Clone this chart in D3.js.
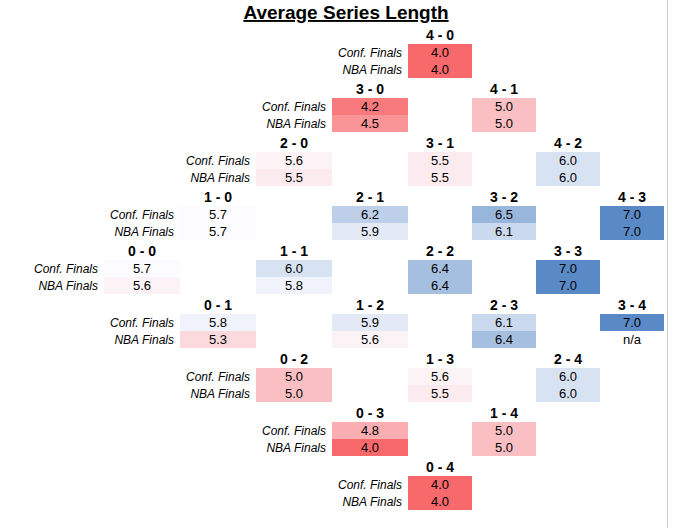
<!DOCTYPE html>
<html><head><meta charset="utf-8">
<script src="https://cdn.jsdelivr.net/npm/d3@7"></script>
<style>body{margin:0;background:#fff;font-family:"Liberation Sans",Arial,sans-serif}</style>
</head><body><div id="chart"></div>
<script>
// series states as "wins-losses"
const states = ["4-0","3-0","4-1","2-0","3-1","4-2","1-0","2-1","3-2","4-3","0-0","1-1","2-2","3-3",
                "0-1","1-2","2-3","3-4","0-2","1-3","2-4","0-3","1-4","0-4"];
const confFinals = [4.0,4.2,5.0,5.6,5.5,6.0,5.7,6.2,6.5,7.0,5.7,6.0,6.4,7.0,5.8,5.9,6.1,7.0,5.0,5.6,6.0,4.8,5.0,4.0];
const nbaFinals  = [4.0,4.5,5.0,5.5,5.5,6.0,5.7,5.9,6.1,7.0,5.6,5.8,6.4,7.0,5.3,5.6,6.4,null,5.0,5.5,6.0,4.0,5.0,4.0];
const rowLabels = ["Conf. Finals","NBA Finals"];

const W = 693, H = 528;
const colEdges = [104,180,256,332,408,472,536,600,664];
const rowH = 17;
const yMid = 260, step = 54;

const color = d3.scaleLinear().domain([4.0,5.7,7.0]).range(["#f8696b","#fcfcff","#5a8ac6"]);

const svg = d3.select("#chart").append("svg").attr("width",W).attr("height",H);
svg.append("line").attr("x1",667.5).attr("x2",667.5).attr("y1",0).attr("y2",H).attr("stroke","#d0d0d0");

svg.append("text").attr("x",346).attr("y",19).attr("text-anchor","middle")
  .attr("font-size",19).attr("font-weight","bold").attr("text-decoration","underline").text("Average Series Length");

states.forEach((s,i) => {
  const [a,b] = s.split("-").map(Number);
  const c = a + b;
  const x0 = colEdges[c], x1 = colEdges[c+1], w = x1 - x0;
  const y0 = yMid - (a-b)*step;
  const g = svg.append("g");
  g.append("text").attr("x",(x0+x1)/2).attr("y",y0-4).attr("text-anchor","middle")
    .attr("font-size",14).attr("font-weight","bold").text(`${a} - ${b}`);
  [confFinals[i], nbaFinals[i]].forEach((v,j) => {
    const y = y0 + j*rowH;
    if (v != null) g.append("rect").attr("x",x0).attr("y",y).attr("width",w).attr("height",rowH).attr("fill",color(v));
    g.append("text").attr("x",(x0+x1)/2).attr("y",y+13).attr("text-anchor","middle")
      .attr("font-size",13).text(v != null ? v.toFixed(1) : "n/a");
    // row labels only on the outer edge of the diamond
    if (a === 0 || b === 0)
      g.append("text").attr("x",x0-6).attr("y",y+13).attr("text-anchor","end")
        .attr("font-size",12).attr("font-style","italic").text(rowLabels[j]);
  });
});
</script></body></html>
